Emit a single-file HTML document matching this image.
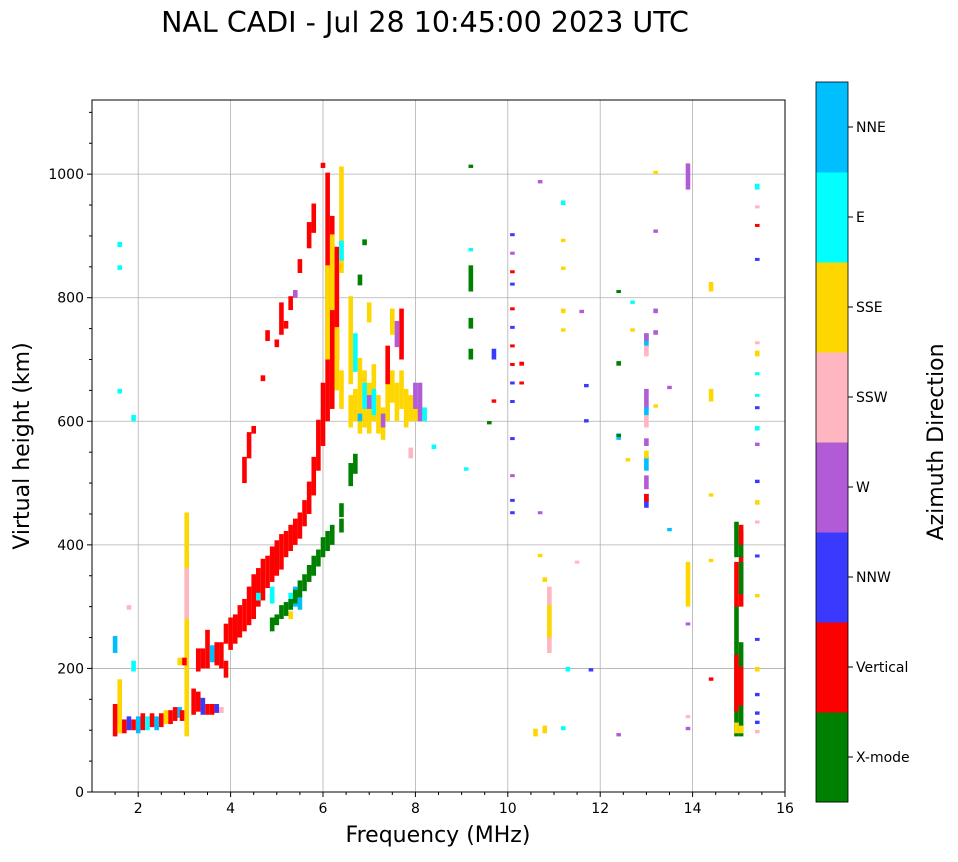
<!DOCTYPE html>
<html><head><meta charset="utf-8"><style>
body{margin:0;background:#fff;font-family:"Liberation Sans","DejaVu Sans",sans-serif;}
svg text{font-family:"DejaVu Sans","Liberation Sans",sans-serif;}
</style></head><body>
<svg id="chart" width="958" height="857">
<text x="425" y="32" font-size="28.5" text-anchor="middle">NAL CADI - Jul 28 10:45:00 2023 UTC</text>
<g id="grid"></g><g id="marks"></g><g id="axes"></g><g id="cbar"></g>
</svg>
<script>
const ns="http://www.w3.org/2000/svg";
const dirNames=["X-mode","Vertical","NNW","W","SSW","SSE","E","NNE"];
const dirColors=["#008000","#ff0000","#3a3aff","#b25bd6","#ffb6c1","#ffd700","#00ffff","#00bfff"];
const xTicks=[2,4,6,8,10,12,14,16];
const yTicks=[0,200,400,600,800,1000];
// echoes: [freq MHz, height low km, height high km, direction index]
const echoes=[
[1.5,90,140,1],[1.5,225,250,7],[1.6,95,180,5],[1.7,95,115,1],[1.8,100,120,2],[1.9,100,115,1],[2.0,95,120,7],[2.1,100,125,1],[2.2,100,120,6],[2.3,105,125,1],[2.4,100,120,7],[2.5,105,125,1],[2.6,110,130,5],[2.7,110,130,1],[2.8,115,135,1],[2.9,120,135,7],[2.95,115,130,1],
[1.9,195,210,6],[1.9,600,608,6],[1.6,645,650,6],[1.6,845,850,6],[1.6,882,888,6],[1.8,295,300,4],
[3.05,90,450,5],[3.05,280,360,4],[3.0,205,215,1],[2.9,205,215,5],
[3.2,125,165,1],[3.3,130,160,1],[3.4,125,150,2],[3.5,125,140,1],[3.6,125,140,1],[3.7,128,140,2],[3.8,128,135,4],
[3.3,195,230,1],[3.4,200,230,1],[3.5,200,260,1],[3.6,210,235,7],[3.7,205,240,1],[3.8,200,240,1],[3.9,185,210,1],
[3.9,240,270,1],[4.0,230,280,1],[4.1,240,285,1],[4.2,250,300,1],[4.3,260,310,1],[4.4,270,330,1],[4.5,280,350,1],[4.6,300,360,1],[4.7,310,375,1],[4.8,330,380,1],[4.9,340,395,1],[5.0,350,405,1],[5.1,360,415,1],[5.2,380,420,1],[5.3,390,430,1],[5.4,400,440,1],[5.5,410,450,1],[5.6,430,470,1],[5.7,450,500,1],[5.8,480,540,1],[5.9,520,600,1],[6.0,560,660,1],
[4.6,310,320,6],[4.9,305,330,6],[5.3,295,320,6],[5.4,300,330,7],[5.5,295,320,7],[5.3,280,290,5],
[4.9,260,280,0],[5.0,270,285,0],[5.1,280,300,0],[5.2,285,305,0],[5.3,295,310,0],[5.4,305,325,0],[5.5,315,340,0],[5.6,325,350,0],[5.7,340,365,0],[5.8,350,380,0],[5.9,365,390,0],[6.0,380,410,0],[6.1,390,420,0],[6.2,400,430,0],[6.4,420,440,0],[6.4,445,465,0],[6.6,495,530,0],[6.7,515,545,0],
[4.3,500,540,1],[4.4,540,580,1],[4.5,580,590,1],[4.7,665,672,1],[4.8,730,745,1],[5.0,720,730,1],[5.1,740,790,1],[5.2,750,760,1],[5.3,780,800,1],[5.5,840,860,1],[5.7,880,920,1],[5.8,905,950,1],[6.0,1010,1016,1],[5.4,800,810,3],
[6.1,600,1000,1],[6.2,620,930,1],[6.3,700,880,1],[6.1,700,850,5],[6.2,780,900,5],[6.4,840,1010,5],[6.3,650,750,5],[6.4,620,680,5],[6.4,860,890,6],
[6.6,590,640,5],[6.7,600,650,5],[6.8,580,700,5],[6.9,590,680,5],[7.0,580,660,5],[7.1,600,690,5],[7.2,580,640,5],[7.3,570,620,5],[7.4,600,670,5],[7.5,630,680,5],[7.6,600,660,5],[7.7,620,680,5],[7.8,590,650,5],[7.9,600,640,5],[8.0,600,630,5],[8.1,610,625,5],
[6.6,660,800,5],[6.7,680,740,6],[6.9,620,660,6],[7.0,620,640,3],[7.1,610,650,6],[7.3,590,610,3],[7.4,660,720,1],[7.7,700,780,1],[7.6,720,760,3],[8.0,620,660,3],[8.1,600,660,3],[8.2,600,620,6],[8.4,555,560,6],[7.9,540,555,4],[6.8,600,610,7],
[6.8,820,835,0],[6.9,885,892,0],[7.0,760,790,5],[7.5,740,780,5],
[9.2,750,765,0],[9.2,810,850,0],[9.2,1010,1013,0],[9.2,700,715,0],[9.2,875,878,6],[9.1,520,523,6],[9.7,700,715,2],[9.7,630,633,1],[9.6,595,598,0],
[10.1,450,452,2],[10.1,470,472,2],[10.1,570,572,2],[10.1,630,632,2],[10.1,660,662,2],[10.1,690,692,1],[10.1,720,722,1],[10.1,750,752,2],[10.1,780,782,1],[10.1,820,822,2],[10.1,840,842,1],[10.1,870,872,3],[10.1,900,902,2],[10.1,510,512,3],
[10.6,90,100,5],[10.8,95,105,5],[10.9,225,330,4],[10.9,250,300,5],[10.8,340,345,5],[11.2,100,104,6],[11.2,950,955,6],[11.2,775,780,5],[11.2,745,748,5],[11.2,845,848,5],[11.2,890,893,5],[10.7,380,383,5],[10.3,690,694,1],[10.3,660,662,1],[10.7,450,452,3],[10.7,985,988,3],
[11.3,195,200,6],[11.8,195,198,2],[11.7,655,658,2],[11.7,598,601,2],[11.6,775,778,3],[11.5,370,372,4],
[12.4,570,578,7],[12.4,575,577,0],[12.4,690,695,0],[12.4,808,810,0],[12.4,90,93,3],[12.6,535,538,5],[12.7,790,793,6],[12.7,745,748,5],
[13.0,460,480,2],[13.0,470,480,1],[13.0,490,510,3],[13.0,520,540,7],[13.0,540,550,5],[13.0,560,570,3],[13.0,590,610,4],[13.0,620,650,3],[13.0,610,620,7],[13.0,720,740,7],[13.0,730,740,3],[13.0,705,720,4],[13.2,775,780,3],[13.2,740,745,3],[13.2,905,908,3],[13.2,1000,1003,5],[13.2,622,625,5],[13.5,652,655,3],[13.5,422,425,7],
[13.9,975,1015,3],[13.9,300,370,5],[13.9,270,272,3],[13.9,120,122,4],[13.9,100,103,3],[14.4,810,823,5],[14.4,632,650,5],[14.4,478,481,5],[14.4,372,375,5],[14.4,180,183,1],
[14.95,90,240,0],[15.05,90,240,0],[14.95,130,220,1],[15.05,140,200,1],[14.95,240,300,0],[15.05,300,380,1],[14.95,300,370,1],[15.05,320,370,0],[14.95,380,435,0],[15.05,380,420,0],[15.05,400,430,1],[14.95,95,110,5],[15.05,95,105,5],
[15.4,95,98,4],[15.4,110,113,2],[15.4,125,128,2],[15.4,155,158,2],[15.4,195,200,5],[15.4,245,247,2],[15.4,315,318,5],[15.4,380,382,2],[15.4,435,437,4],[15.4,465,470,5],[15.4,500,503,2],[15.4,560,563,3],[15.4,585,590,6],[15.4,620,622,2],[15.4,640,642,6],[15.4,675,677,6],[15.4,705,712,5],[15.4,725,727,4],[15.4,860,862,2],[15.4,915,917,1],[15.4,945,947,4],[15.4,975,982,6]
];
const X0=92,X1=785,Y0=792,Y1=100,F0=1,F1=16,H0=0,H1=1120;
const xs=f=>X0+(f-F0)/(F1-F0)*(X1-X0);
const ys=h=>Y0-(h-H0)/(H1-H0)*(Y0-Y1);
function mk(tag,attrs,parent,txt){const e=document.createElementNS(ns,tag);for(const k in attrs)e.setAttribute(k,attrs[k]);if(txt!==undefined)e.textContent=txt;parent.appendChild(e);return e;}
const grid=document.getElementById('grid'),marks=document.getElementById('marks'),axes=document.getElementById('axes'),cbar=document.getElementById('cbar');
xTicks.forEach(t=>{const x=xs(t);if(t<F1){const l=mk('line',{x1:x,x2:x,y1:Y1,y2:Y0,stroke:'#b0b0b0','stroke-width':0.8},grid);}
 mk('line',{x1:x,x2:x,y1:Y0,y2:Y0+5,stroke:'#000'},axes);
 const tx=mk('text',{x:x,y:Y0+21,'font-size':14,'text-anchor':'middle'},axes,t);});
for(let f=1.5;f<16;f+=0.5){if(f%2!==0)mk('line',{x1:xs(f),x2:xs(f),y1:Y0,y2:Y0+3,stroke:'#000'},axes);}
yTicks.forEach(t=>{const y=ys(t);if(t>0){const l=mk('line',{x1:X0,x2:X1,y1:y,y2:y,stroke:'#b0b0b0','stroke-width':0.8},grid);}
 mk('line',{x1:X0-5,x2:X0,y1:y,y2:y,stroke:'#000'},axes);
 const tx=mk('text',{x:X0-8,y:y+5,'font-size':14,'text-anchor':'end'},axes,t);});
for(let h=50;h<1120;h+=50){if(h%200!==0)mk('line',{x1:X0-3,x2:X0,y1:ys(h),y2:ys(h),stroke:'#000'},axes);}
echoes.forEach(e=>{const x=xs(e[0]);const yTop=ys(e[2]),yBot=ys(e[1]);
 const r=mk('rect',{x:x-2.3,y:yTop-1.5,width:4.6,height:Math.max(3,yBot-yTop+1.5),fill:dirColors[e[3]]},marks);
 
 });
const fr=mk('rect',{x:X0,y:Y1,width:X1-X0,height:Y0-Y1,fill:'none',stroke:'#000','stroke-width':1},axes);

const xl=mk('text',{x:438,y:842,'font-size':22,'text-anchor':'middle'},axes,'Frequency (MHz)');
const yl=mk('text',{x:0,y:0,'font-size':22,'text-anchor':'middle',transform:'translate(29,446) rotate(-90)'},axes,'Virtual height (km)');
const CB0=82,CB1=802,CX=816,CW=32,seg=(CB1-CB0)/8;
dirNames.forEach((n,i)=>{const y=CB1-(i+1)*seg;
 const r=mk('rect',{x:CX,y:y,width:CW,height:seg+0.5,fill:dirColors[i]},cbar);
 mk('line',{x1:CX+CW,x2:CX+CW+5,y1:y+seg/2,y2:y+seg/2,stroke:'#000'},cbar);
 const t=mk('text',{x:CX+CW+8,y:y+seg/2+5,'font-size':14},cbar,n);});
mk('rect',{x:CX,y:CB0,width:CW,height:CB1-CB0,fill:'none',stroke:'#000','stroke-width':0.8},cbar);
const ct=mk('text',{x:0,y:0,'font-size':22,'text-anchor':'middle',transform:'translate(943,442) rotate(-90)'},cbar,'Azimuth Direction');
</script>
</body></html>
